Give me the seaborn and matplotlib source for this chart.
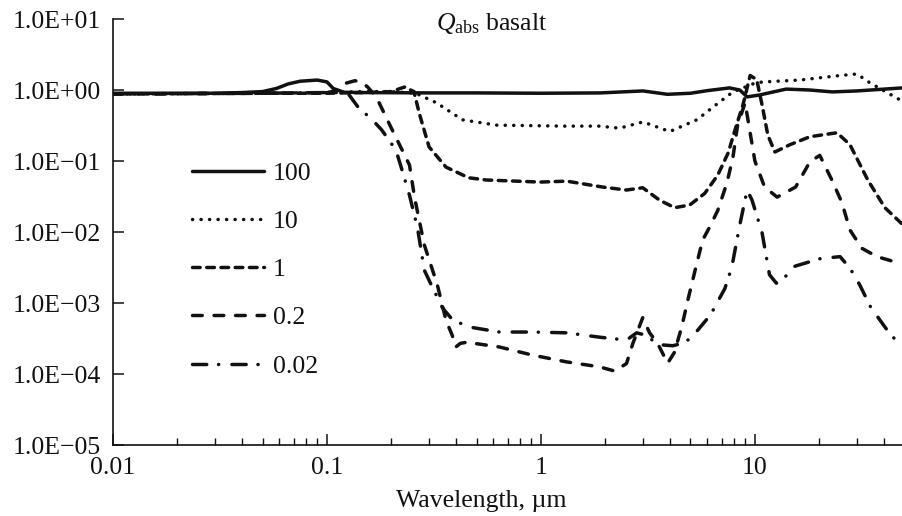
import numpy as np
import pandas as pd
import matplotlib
matplotlib.use("Agg")
import matplotlib.pyplot as plt
import seaborn as sns
from matplotlib.ticker import FixedLocator, FixedFormatter, LogLocator, NullFormatter, NullLocator

# ---------------- data ----------------
sizes = ["100", "10", "1", "0.2", "0.02"]

wl_100 = [0.01, 0.02, 0.03, 0.04, 0.05, 0.058, 0.066, 0.075, 0.09, 0.1, 0.107, 0.12, 0.15, 0.3, 0.5,
          1.0, 1.9, 3.0, 3.9, 5.0, 6.0, 7.6, 8.5, 9.2, 10.5, 14, 18, 23, 30, 48.7]
q_100 = [0.9, 0.9, 0.9, 0.92, 0.95, 1.05, 1.22, 1.33, 1.38, 1.3, 1.05, 0.93, 0.92, 0.91, 0.91,
         0.9, 0.91, 0.97, 0.87, 0.9, 0.98, 1.07, 1.0, 0.8, 0.85, 1.03, 1.0, 0.94, 0.97, 1.07]

wl_10 = [0.01, 0.05, 0.1, 0.15, 0.2, 0.26, 0.325, 0.43, 0.62, 1.26, 1.88, 2.33, 3.0, 4.0, 5.35,
         6.85, 7.9, 9.0, 10.0, 10.9, 16.2, 25, 30, 34.5, 48.7]
q_10 = [0.88, 0.9, 0.92, 0.95, 0.95, 0.9, 0.66, 0.38, 0.32, 0.31, 0.31, 0.29, 0.355, 0.26, 0.38,
        0.68, 0.94, 1.1, 1.25, 1.3, 1.38, 1.6, 1.68, 1.26, 0.7]

wl_1 = [0.01, 0.05, 0.1, 0.15, 0.2, 0.23, 0.255, 0.27, 0.30, 0.36, 0.46, 0.556, 0.99, 1.32, 1.94,
        2.51, 2.99, 3.59, 4.22, 4.96, 5.83, 6.7, 7.5, 8.2, 8.8, 9.5, 10.2, 10.8, 11.5, 12.4, 14.6,
        18.1, 24.2, 27.8, 33.7, 40.5, 48.7]
q_1 = [0.88, 0.9, 0.9, 0.92, 0.95, 1.1, 0.95, 0.47, 0.158, 0.082, 0.058, 0.054, 0.0505, 0.052, 0.043,
       0.039, 0.042, 0.028, 0.022, 0.024, 0.035, 0.063, 0.13, 0.32, 0.62, 1.6, 1.4, 0.62, 0.23, 0.134, 0.17,
       0.22, 0.25, 0.17, 0.054, 0.022, 0.013]

wl_02 = [0.01, 0.05, 0.1, 0.115, 0.123, 0.135, 0.145, 0.155, 0.17, 0.2, 0.243, 0.257, 0.285, 0.328,
         0.36, 0.385, 0.40, 0.42, 0.45, 0.64, 0.91, 1.32, 1.88, 2.21, 2.51, 2.69, 2.99, 3.22, 3.51,
         3.91, 4.2, 4.55, 4.86, 5.35, 5.7, 6.15, 6.7, 7.4, 7.9, 8.3, 9.0, 10.0, 11.1, 12.7, 15.5,
         18.1, 20.1, 22.9, 25.5, 27.8, 31.6, 37.2, 45, 48.7]
q_02 = [0.88, 0.9, 0.92, 1.0, 1.25, 1.35, 1.3, 1.1, 0.8, 0.29, 0.088, 0.030, 0.0066, 0.0018,
        5.7e-4, 3.5e-4, 2.4e-4, 2.7e-4, 2.8e-4, 2.4e-4, 1.85e-4, 1.48e-4, 1.26e-4, 1.1e-4, 1.4e-4, 2.7e-4, 6.2e-4, 3.8e-4, 2.7e-4,
        1.42e-4, 2.0e-4, 4.6e-4, 1.1e-3, 3.6e-3, 7.7e-3, 0.0118, 0.020, 0.049, 0.114, 0.32, 0.66, 0.10, 0.043, 0.031, 0.043,
        0.098, 0.12, 0.054, 0.026, 0.0107, 0.0059, 0.0045, 0.0038, 0.0037]

wl_002 = [0.01, 0.05, 0.1, 0.115, 0.127, 0.14, 0.163, 0.18, 0.21, 0.223, 0.243, 0.265, 0.285, 0.31,
          0.347, 0.386, 0.46, 0.64, 0.91, 1.32, 1.88, 2.51, 2.8, 3.12, 3.5, 4.13, 4.7, 5.2, 6.2,
          7.24, 7.8, 8.5, 9.2, 9.7, 10.8, 11.7, 12.6, 13.4, 15.4, 20.1, 25, 27.8, 30.9, 34.8, 41.4, 48.7]
q_002 = [0.88, 0.9, 0.92, 0.92, 0.85, 0.57, 0.38, 0.275, 0.143, 0.079, 0.033, 0.0114, 0.0029, 0.0017,
         8.5e-4, 5.8e-4, 4.6e-4, 3.9e-4, 3.9e-4, 3.8e-4, 3.3e-4, 3.0e-4, 3.8e-4, 3.5e-4, 2.6e-4, 2.5e-4, 2.75e-4, 3.6e-4, 6.8e-4,
         1.6e-3, 3.2e-3, 0.0126, 0.039, 0.028, 0.0098, 0.0025, 0.0019, 0.0021, 0.0033, 0.0042, 0.0045, 0.0031, 0.0018, 8.7e-4, 4.2e-4, 2.35e-4]

xtick_values = [0.01, 0.1, 1, 10]
xtick_labels = ["0.01", "0.1", "1", "10"]
ytick_values = [1e1, 1e0, 1e-1, 1e-2, 1e-3, 1e-4, 1e-5]
ytick_labels = ["1.0E+01", "1.0E+00", "1.0E\u221201", "1.0E\u221202", "1.0E\u221203", "1.0E\u221204", "1.0E\u221205"]

# ---------------- style ----------------
sns.set_style("ticks")
plt.rcParams["font.family"] = ["Liberation Serif", "DejaVu Serif"]
plt.rcParams["mathtext.fontset"] = "custom"
plt.rcParams["mathtext.rm"] = "Liberation Serif"
plt.rcParams["mathtext.it"] = "Liberation Serif:italic"

FS = 18.5
INK = "#111111"

fig = plt.figure(figsize=(9.02, 5.16), dpi=100)
ax = fig.add_axes([113 / 902, 1 - 445 / 516, (902 - 113) / 902, (445 - 19) / 516])
ax.set_xscale("log")
ax.set_yscale("log")

series = [
    (sizes[0], wl_100, q_100, "-"),
    (sizes[1], wl_10, q_10, (0, (0.05, 2.4))),
    (sizes[2], wl_1, q_1, (0, (2.2, 1.9))),
    (sizes[3], wl_02, q_02, (0, (2.8, 3.4))),
    (sizes[4], wl_002, q_002, (0, (4.1, 3.4, 0.05, 3.8))),
]
for lab, wl, q, ls in series:
    df = pd.DataFrame({"wl": wl, "q": q})
    sns.lineplot(data=df, x="wl", y="q", ax=ax, color=INK, lw=2.5, linestyle=ls,
                 label=lab, estimator=None, sort=False,
                 dash_capstyle="round", solid_capstyle="round")

ax.set_xlim(0.01, 48.7)
ax.set_ylim(1e-5, 10)

ax.xaxis.set_major_locator(FixedLocator(xtick_values))
ax.xaxis.set_major_formatter(FixedFormatter(xtick_labels))
ax.xaxis.set_minor_locator(LogLocator(base=10, subs=np.arange(2, 10)))
ax.xaxis.set_minor_formatter(NullFormatter())
ax.yaxis.set_major_locator(FixedLocator(ytick_values))
ax.yaxis.set_major_formatter(FixedFormatter(ytick_labels))
ax.yaxis.set_minor_locator(NullLocator())

ax.tick_params(axis="both", which="major", direction="in", length=8, width=1.1, colors=INK, labelsize=FS)
ax.tick_params(axis="both", which="minor", direction="in", length=5, width=1.0, colors=INK)
ax.tick_params(axis="x", which="major", pad=9)
ax.tick_params(axis="y", which="major", pad=9)

for s in ["top", "right"]:
    ax.spines[s].set_visible(False)
for s in ["left", "bottom"]:
    ax.spines[s].set_linewidth(1.2)
    ax.spines[s].set_color(INK)

ax.set_ylabel("")
ax.set_xlabel("Wavelength, \u00b5m", fontsize=FS, color=INK)
ax.xaxis.set_label_coords((481 - 113) / 789, -0.105)

ax.text((492 - 113) / 789, (445 - 11) / 426, r"$Q_{\rm abs}$ basalt", transform=ax.transAxes,
        ha="center", va="top", fontsize=FS, color=INK, clip_on=False)

leg = ax.legend(loc="upper left", bbox_to_anchor=((192 - 113) / 789, (445 - 162) / 426),
                frameon=False, fontsize=FS, handlelength=2.8, handletextpad=0.35,
                labelspacing=0.98, borderpad=0, borderaxespad=0)
for t in leg.get_texts():
    t.set_color(INK)

fig.savefig("out.png", dpi=100, facecolor="white")
